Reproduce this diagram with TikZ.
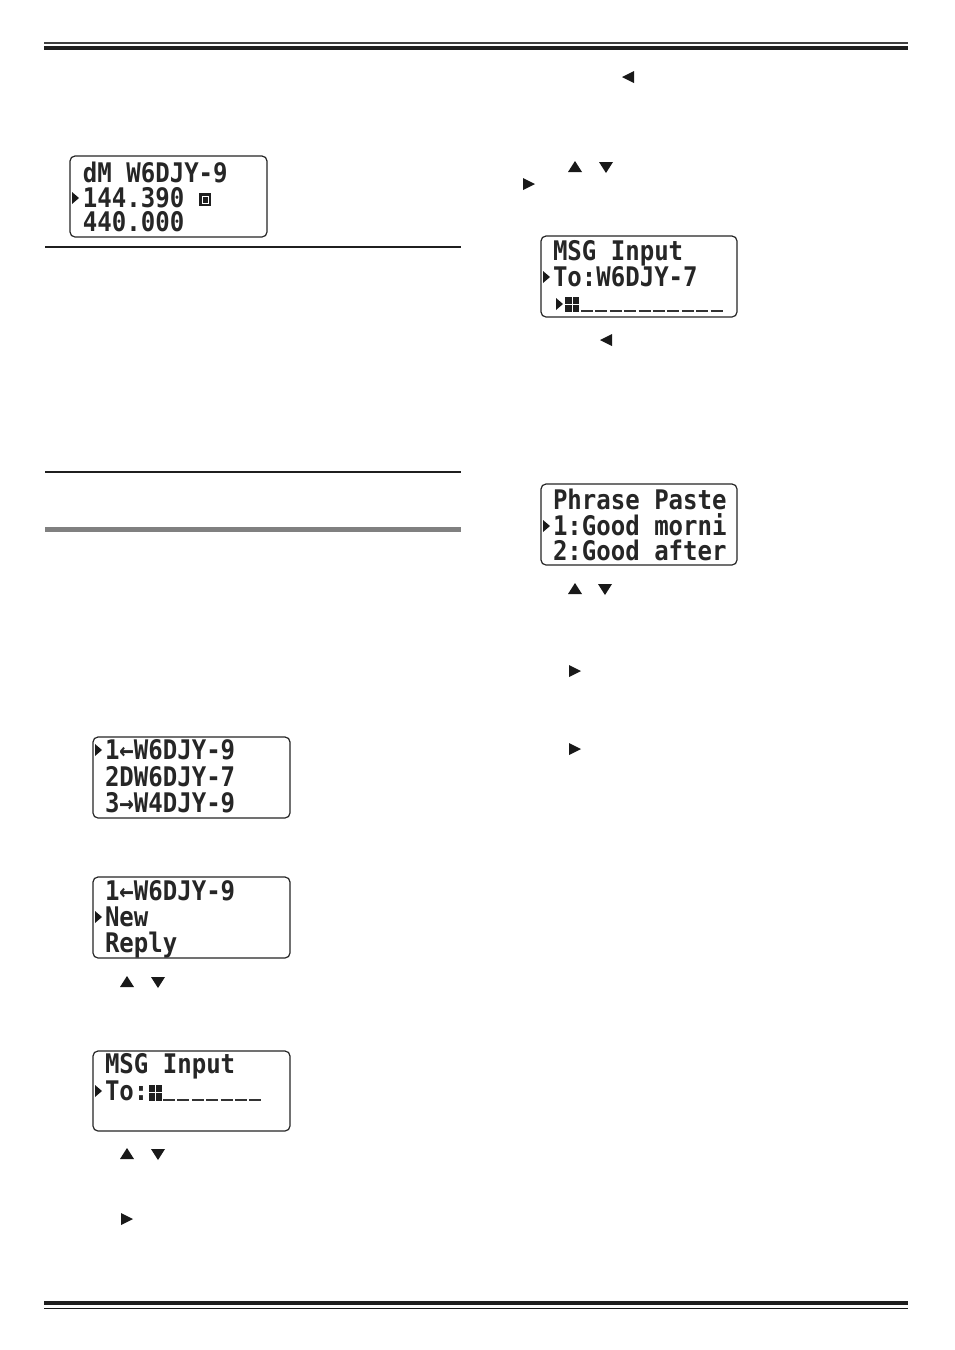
\documentclass[tikz,border=0pt]{standalone}
\usepackage{fontspec}
\newfontfamily\lcd[FakeStretch=0.89]{DejaVu Sans Mono Bold}
\begin{document}
\begin{tikzpicture}[x=0.5pt,y=-0.5pt,
  lcdbox/.style={draw=black!85, line width=0.6pt, rounded corners=2.5pt},
  lcdtxt/.style={anchor=base west, inner sep=0pt, outer sep=0pt,
     font=\lcd\fontsize{13.5pt}{13.5pt}\selectfont, text=black!85},
  rulethin/.style={draw=black!88, line width=0.65pt},
  keyup/.pic={\fill[black!90] (-7,5)--(7,5)--(0,-6)--cycle;},
  keydown/.pic={\fill[black!90] (-7,-5)--(7,-5)--(0,6)--cycle;},
  keyleft/.pic={\fill[black!90] (6,-6)--(6,6)--(-6,0)--cycle;},
  keyright/.pic={\fill[black!90] (-6,-6)--(-6,6)--(6,0)--cycle;},
  lcdcur/.pic={\fill[black!90] (-3,-6)--(-3,6)--(4,0)--cycle;},
  uline/.style={draw=black!80, line width=1pt}
]
\useasboundingbox (0,0) rectangle (954,1350);
\fill[white] (0,0) rectangle (954,1350);

% page rules
\draw[draw=black!75, line width=0.7pt] (44,43) -- (908,43);
\draw[draw=black!88, line width=2pt] (44,48) -- (908,48);
\draw[draw=black!88, line width=2pt] (44,1303) -- (908,1303);
\draw[draw=black!90, line width=0.75pt] (44,1308.5) -- (908,1308.5);
\draw[rulethin] (45,247) -- (461,247);
\draw[rulethin] (45,472) -- (461,472);
\fill[black!50] (45,527) rectangle (461,532);

% ---- LCD 1
\draw[lcdbox] (70,156) rectangle (267,237);
\node[lcdtxt] (b1l1) at (83,182) {dM W6DJY-9};
\node[lcdtxt] (b1l2) at (83,207) {144.390};
\node[lcdtxt] (b1l3) at (83,231) {440.000};
\pic at (75,198) {lcdcur};
\fill[black!88] (199,193) rectangle (211,206);
\draw[white, line width=0.5pt] (202,196) rectangle (208,203);

% ---- LCD 2
\draw[lcdbox] (541,236) rectangle (737,317);
\node[lcdtxt] (b2l1) at (553,260) {MSG Input};
\node[lcdtxt] (b2l2) at (553,286) {To:W6DJY-7};
\pic at (546,277) {lcdcur};
\pic at (559,304) {lcdcur};
\fill[black!88] (565,297) rectangle (579,311.5);
\draw[white, line width=0.3pt] (572,297) -- (572,311.5) (565,304) -- (579,304);
\foreach \i in {0,...,9} {\draw[uline] ({581+14.4*\i},311) -- ({593+14.4*\i},311);}

% ---- LCD 3
\draw[lcdbox] (541,484) rectangle (737,565);
\node[lcdtxt] (b3l1) at (553,509) {Phrase Paste};
\node[lcdtxt] (b3l2) at (553,535) {1:Good morni};
\node[lcdtxt] (b3l3) at (553,560) {2:Good after};
\pic at (546,526) {lcdcur};

% ---- LCD 4
\draw[lcdbox] (93,737) rectangle (290,818);
\node[lcdtxt] (b4l1) at (105,759) {1←W6DJY-9};
\node[lcdtxt] (b4l2) at (105,786) {2DW6DJY-7};
\node[lcdtxt] (b4l3) at (105,812) {3→W4DJY-9};
\pic at (98,750) {lcdcur};

% ---- LCD 5
\draw[lcdbox] (93,877) rectangle (290,958);
\node[lcdtxt] (b5l1) at (105,900) {1←W6DJY-9};
\node[lcdtxt] (b5l2) at (105,926) {New};
\node[lcdtxt] (b5l3) at (105,952) {Reply};
\pic at (98,917) {lcdcur};

% ---- LCD 6
\draw[lcdbox] (93,1051) rectangle (290,1131);
\node[lcdtxt] (b6l1) at (105,1073) {MSG Input};
\node[lcdtxt] (b6l2) at (105,1100) {To:};
\pic at (98,1091) {lcdcur};
\fill[black!88] (149,1085) rectangle (161.5,1100.5);
\draw[white, line width=0.3pt] (155,1085) -- (155,1100.5) (149,1092.5) -- (161.5,1092.5);
\foreach \i in {0,...,6} {\draw[uline] ({163+14.4*\i},1100) -- ({175+14.4*\i},1100);}

% ---- key symbols
\pic at (628,77) {keyleft};
\pic at (575,167) {keyup};
\pic at (606,167) {keydown};
\pic at (529,184) {keyright};
\pic at (606,340) {keyleft};
\pic at (575,589) {keyup};
\pic at (605,589) {keydown};
\pic at (575,671) {keyright};
\pic at (575,749) {keyright};
\pic at (127,982) {keyup};
\pic at (158,982) {keydown};
\pic at (127,1154) {keyup};
\pic at (158,1154) {keydown};
\pic at (127,1219) {keyright};
\end{tikzpicture}
\end{document}
